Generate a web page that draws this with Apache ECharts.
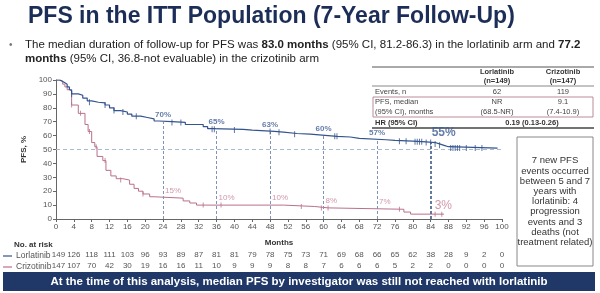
<!DOCTYPE html>
<html>
<head>
<meta charset="utf-8">
<script src="https://cdn.jsdelivr.net/npm/echarts@6/dist/echarts.min.js"></script>
<style>
  html, body { margin: 0; padding: 0; background: #fff; }
  #pfsChart { width: 600px; height: 293px; }
</style>
</head>
<body>
<div id="pfsChart"></div>
<script>
// Kaplan-Meier step points [month, PFS %]
var lorCurve = [[0,100],[0.8,99],[1.5,98],[2,97],[2.5,95],[3,93],[3.5,90],[5,89],[6,87],[7,85],[8,84],[9.5,83.5],[11,82],[12,80],[13,78],[14.5,77],[16,75.5],[17,74],[19,73],[20.5,72],[22,70.5],[23,70],[26,69.5],[29,68],[33,66.5],[34,65],[35,64.5],[42,64],[44,63],[49,62.5],[51,61.5],[54,61],[57,60],[61,59.5],[63,59],[66,58],[68,57],[74,56.5],[76,56],[80,55.5],[83,55],[85,54],[86,53],[87,52],[88,51],[99,51]]
var crzCurve = [[0,100],[1,99],[1.5,97],[2,95],[2.5,93],[3,92],[3.5,82],[5,76],[6.5,68],[7.2,63],[8,55],[8.7,52],[9.2,45],[10.5,42],[11.2,35],[12.3,31],[13.5,29],[15,28],[16.5,25],[17.5,22],[18.5,20],[19.5,18],[21,16],[22,15],[28.5,13],[30,11.5],[31.5,10],[51,9],[58,8],[61,7],[78,5],[79.5,3.5],[87,3.5]]
// censored patients
var lorCensor = [[3.5,90],[7.5,84],[11,82],[13,78],[15,77],[18,74],[26,69.5],[28,69.5],[35,64.5],[35.5,64.5],[40,64],[48,63],[50,62.5],[53.5,61],[62.5,59.5],[63,59.5],[77,56],[78.5,56],[80.5,55.5],[81,55.5],[81.5,55.5],[82,55.5],[83,55],[84,55],[85,54],[86,53],[88.5,51],[89,51],[89.5,51],[90,51],[90.5,51],[92,51],[94,51],[95.5,51]]
var crzCensor = [[3.5,82],[5.5,76],[7.5,63],[9,52],[11,42],[14.5,28],[19.5,18],[33,10],[37,10],[55,9],[59.5,8],[61,8],[77,7],[85,3.5],[86.5,3.5]]

// landmark estimates
var markMonths = [24,36,48,60,72,84]
var lorMarks = [70,65,63,60,57,55]
var crzMarks = [15,10,10,8,7,3]

// number at risk
var lorRisk = [149,126,118,111,103,96,93,89,87,81,81,79,78,75,73,71,69,68,66,65,62,38,28,9,2,0]
var crzRisk = [147,107,70,42,30,19,16,16,11,10,9,9,9,8,8,7,6,6,6,5,2,2,0,0,0,0]

var FONT = 'Liberation Sans, Arial, sans-serif'
var BLUE = '#34548e'
var PINK = '#b9708c'

var chart = echarts.init(document.getElementById('pfsChart'))

var vLines = markMonths.map(function (m, i) {
  var last = i === markMonths.length - 1
  return [
    { coord: [m, 0], lineStyle: { color: last ? '#3c5a86' : '#7d93b8', width: last ? 1.6 : 1, type: [3, 2] } },
    { coord: [m, lorMarks[i]] }
  ]
})

function riskAxis(arr, margin) {
  return {
    type: 'value', min: 0, max: 100, interval: 4, position: 'bottom',
    axisLine: { show: false }, axisTick: { show: false }, splitLine: { show: false },
    axisLabel: {
      margin: margin, fontSize: 8, color: '#555', fontFamily: FONT,
      showMinLabel: true, showMaxLabel: true,
      formatter: function (v) {
        var n = arr[Math.round(v / 4)]
        return v === 0 ? '{first|' + n + '}' : '' + n
      },
      rich: { first: { fontSize: 8, color: '#555', padding: [0, 0, 0, 5] } }
    }
  }
}

chart.setOption({
  backgroundColor: '#fff',
  animation: false,
  textStyle: { fontFamily: FONT },
  grid: { left: 56, right: 98, top: 80, bottom: 74 },
  xAxis: [
    {
      type: 'value', min: 0, max: 100, interval: 4,
      name: 'Months', nameLocation: 'middle', nameGap: 20,
      nameTextStyle: { fontSize: 8, fontWeight: 'bold', color: '#333' },
      axisLine: { lineStyle: { color: '#666' } },
      axisTick: { length: 3, lineStyle: { color: '#666' } },
      axisLabel: { fontSize: 8, color: '#555', margin: 4 },
      splitLine: { show: false }
    },
    riskAxis(lorRisk, 32),
    riskAxis(crzRisk, 43)
  ],
  yAxis: {
    type: 'value', min: 0, max: 100, interval: 10,
    name: 'PFS, %', nameLocation: 'middle', nameGap: 17,
    nameTextStyle: { fontSize: 8, fontWeight: 'bold', color: '#333' },
    axisLine: { show: true, lineStyle: { color: '#666' } },
    axisTick: { show: true, length: 3, lineStyle: { color: '#666' } },
    axisLabel: { fontSize: 8, color: '#555', margin: 4 },
    splitLine: { show: false }
  },
  series: [
    {
      name: 'Crizotinib', type: 'line', step: 'end', data: crzCurve,
      symbol: 'none', lineStyle: { color: PINK, width: 1 }, z: 3
    },
    {
      name: 'Lorlatinib', type: 'line', step: 'end', data: lorCurve,
      symbol: 'none', lineStyle: { color: BLUE, width: 1.2 }, z: 4,
      markLine: {
        silent: true, symbol: 'none', label: { show: false },
        data: [{ yAxis: 50, lineStyle: { color: '#a9bad0', width: 1, type: [4, 3] } }].concat(vLines)
      }
    },
    {
      type: 'scatter', data: crzCensor, symbol: 'rect', symbolSize: [1, 5],
      itemStyle: { color: PINK }, z: 5
    },
    {
      type: 'scatter', data: lorCensor, symbol: 'rect', symbolSize: [1, 6],
      itemStyle: { color: BLUE }, z: 5
    },
    {
      // landmark labels, lorlatinib
      type: 'scatter', symbolSize: 0, z: 6,
      data: markMonths.map(function (m, i) { return [m, lorMarks[i]] }),
      label: {
        show: true, position: 'top', distance: 3,
        color: '#3d5c94', fontWeight: 'bold', fontSize: 8,
        formatter: function (p) { return p.value[1] + '%' }
      },
      labelLayout: function (p) {
        if (p.dataIndex === 5) return { dx: 13, dy: -1, fontSize: 12 }
        return {}
      }
    },
    {
      // landmark labels, crizotinib
      type: 'scatter', symbolSize: 0, z: 6,
      data: markMonths.map(function (m, i) { return [m, crzMarks[i]] }),
      label: {
        show: true, position: 'right', distance: 2,
        color: '#c57d98', fontSize: 8,
        formatter: function (p) { return p.value[1] + '%' }
      },
      labelLayout: function (p) {
        if (p.dataIndex === 5) return { dx: 2, dy: -9, fontSize: 12 }
        return { dy: -7 }
      }
    }
  ],
  graphic: [
    {
      type: 'text', left: 28, top: 5,
      style: { text: 'PFS in the ITT Population (7-Year Follow-Up)', fontSize: 23, fontWeight: 'bold', fill: '#1c2d57', fontFamily: FONT }
    },
    { type: 'text', x: 9, y: 45, style: { text: '•', fontSize: 10, fill: '#777', verticalAlign: 'middle', fontFamily: FONT } },
    {
      type: 'text', x: 25, y: 45,
      style: {
        text: '{r|The median duration of follow-up for PFS was }{b|83.0 months}{r| (95% CI, 81.2-86.3) in the lorlatinib arm and }{b|77.2}',
        verticalAlign: 'middle', fontFamily: FONT,
        rich: { r: { fontSize: 11.5, fill: '#222', fontFamily: FONT }, b: { fontSize: 11.5, fontWeight: 'bold', fill: '#222', fontFamily: FONT } }
      }
    },
    {
      type: 'text', x: 25, y: 59,
      style: {
        text: '{b|months}{r| (95% CI, 36.8-not evaluable) in the crizotinib arm}',
        verticalAlign: 'middle', fontFamily: FONT,
        rich: { r: { fontSize: 11.5, fill: '#222', fontFamily: FONT }, b: { fontSize: 11.5, fontWeight: 'bold', fill: '#222', fontFamily: FONT } }
      }
    },
    // summary table
    { type: 'line', shape: { x1: 372, y1: 67, x2: 594, y2: 67 }, style: { stroke: '#555', lineWidth: 1 } },
    { type: 'text', x: 497, y: 76.5, style: { text: 'Lorlatinib\n(n=149)', fontSize: 7.5, lineHeight: 9, fontWeight: 'bold', fill: '#333', align: 'center', verticalAlign: 'middle', fontFamily: FONT } },
    { type: 'text', x: 563, y: 76.5, style: { text: 'Crizotinib\n(n=147)', fontSize: 7.5, lineHeight: 9, fontWeight: 'bold', fill: '#333', align: 'center', verticalAlign: 'middle', fontFamily: FONT } },
    { type: 'line', shape: { x1: 372, y1: 86, x2: 594, y2: 86 }, style: { stroke: '#888', lineWidth: 1 } },
    { type: 'text', x: 375, y: 91.5, style: { text: 'Events, n', fontSize: 7.5, fill: '#444', verticalAlign: 'middle', fontFamily: FONT } },
    { type: 'text', x: 497, y: 91.5, style: { text: '62', fontSize: 7.5, fill: '#444', align: 'center', verticalAlign: 'middle', fontFamily: FONT } },
    { type: 'text', x: 563, y: 91.5, style: { text: '119', fontSize: 7.5, fill: '#444', align: 'center', verticalAlign: 'middle', fontFamily: FONT } },
    { type: 'rect', shape: { x: 373, y: 97, width: 220, height: 20 }, style: { fill: 'none', stroke: '#b98c98', lineWidth: 1 } },
    { type: 'text', x: 375, y: 107, style: { text: 'PFS, median\n(95% CI), months', fontSize: 7.5, lineHeight: 9.5, fill: '#444', verticalAlign: 'middle', fontFamily: FONT } },
    { type: 'text', x: 497, y: 107, style: { text: 'NR\n(68.5-NR)', fontSize: 7.5, lineHeight: 9.5, fill: '#444', align: 'center', verticalAlign: 'middle', fontFamily: FONT } },
    { type: 'text', x: 563, y: 107, style: { text: '9.1\n(7.4-10.9)', fontSize: 7.5, lineHeight: 9.5, fill: '#444', align: 'center', verticalAlign: 'middle', fontFamily: FONT } },
    { type: 'text', x: 375, y: 122.5, style: { text: 'HR (95% CI)', fontSize: 7.5, fontWeight: 'bold', fill: '#333', verticalAlign: 'middle', fontFamily: FONT } },
    { type: 'text', x: 532, y: 122.5, style: { text: '0.19 (0.13-0.26)', fontSize: 7.5, fontWeight: 'bold', fill: '#333', align: 'center', verticalAlign: 'middle', fontFamily: FONT } },
    { type: 'line', shape: { x1: 372, y1: 128, x2: 594, y2: 128 }, style: { stroke: '#444', lineWidth: 1.5 } },
    // side note box
    { type: 'rect', shape: { x: 517, y: 137, width: 76, height: 129 }, style: { fill: '#fff', stroke: '#888', lineWidth: 1 } },
    {
      type: 'text', x: 555, y: 201.5,
      style: {
        text: '7 new PFS\nevents occurred\nbetween 5 and 7\nyears with\nlorlatinib: 4\nprogression\nevents and 3\ndeaths (not\ntreatment related)',
        fontSize: 9.5, lineHeight: 10.2, fill: '#333', align: 'center', verticalAlign: 'middle', fontFamily: FONT
      }
    },
    // number at risk
    { type: 'text', x: 14, y: 245, style: { text: 'No. at risk', fontSize: 8, fontWeight: 'bold', fill: '#333', verticalAlign: 'middle', fontFamily: FONT } },
    { type: 'line', shape: { x1: 3, y1: 256, x2: 12, y2: 256 }, style: { stroke: BLUE, lineWidth: 1.2 } },
    { type: 'text', x: 16, y: 256, style: { text: 'Lorlatinib', fontSize: 8.5, fill: '#555', verticalAlign: 'middle', fontFamily: FONT } },
    { type: 'line', shape: { x1: 3, y1: 267, x2: 12, y2: 267 }, style: { stroke: PINK, lineWidth: 1.2 } },
    { type: 'text', x: 16, y: 267, style: { text: 'Crizotinib', fontSize: 8.5, fill: '#555', verticalAlign: 'middle', fontFamily: FONT } },
    // bottom banner
    { type: 'rect', shape: { x: 3, y: 272, width: 592, height: 19 }, style: { fill: '#1f3867' } },
    {
      type: 'text', x: 299, y: 281.5,
      style: { text: 'At the time of this analysis, median PFS by investigator was still not reached with lorlatinib', fontSize: 11.5, fontWeight: 'bold', fill: '#fff', align: 'center', verticalAlign: 'middle', fontFamily: FONT }
    }
  ]
})
</script>
</body>
</html>
